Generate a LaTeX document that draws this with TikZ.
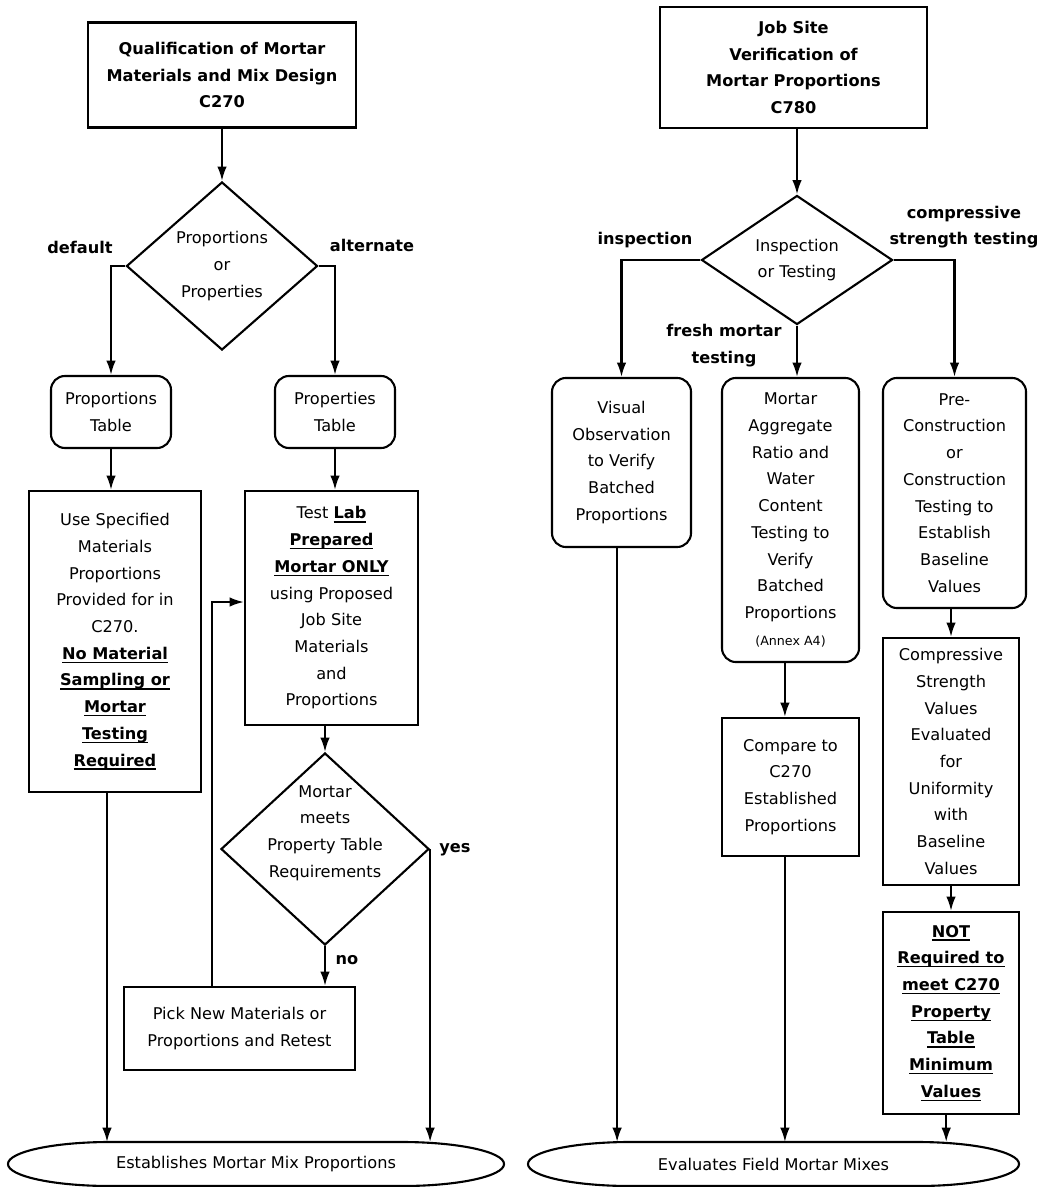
\documentclass[tikz,border=0pt]{standalone}
\usepackage{fontspec}
\setmainfont{DejaVu Sans}
\usetikzlibrary{shapes.geometric,arrows.meta}
\newcommand{\ub}[1]{{\bfseries\setbox0\hbox{#1}\rlap{\rule[-2.6pt]{\wd0}{0.9pt}}\box0}}

\tikzset{
    every node/.style={font=\fontsize{11.5pt}{19pt}\selectfont},
    box/.style={draw, line width=1.5pt, align=center, inner sep=2pt},
    rbox/.style={box, rounded corners=0.35cm},
    head/.style={box, font=\fontsize{11.5pt}{19pt}\selectfont\bfseries},
    dec/.style={draw, diamond, line width=1.5pt, align=center, inner sep=0pt},
    lbl/.style={font=\fontsize{11.5pt}{19pt}\selectfont\bfseries, align=center},
    arr/.style={-{Latex[length=3.6mm,width=2.4mm]}, line width=1.5pt},
    wire/.style={line width=1.5pt},
}

\begin{document}
\begin{tikzpicture}[x=0.025cm, y=-0.025cm]
    \useasboundingbox (0,0) rectangle (1051,1187);

    % Left flow: C270 qualification.
    \node[head, minimum width=6.7cm, minimum height=2.625cm] (c270) at (222,75)
        {Qualification of Mortar\\Materials and Mix Design\\C270};
    \node[dec, minimum width=4.775cm, minimum height=4.2cm] (pp) at (222,266)
        {Proportions\\or\\Properties};
    \node[rbox, minimum width=3cm, minimum height=1.8cm] (proptab) at (111,412)
        {Proportions\\Table};
    \node[rbox, minimum width=3cm, minimum height=1.8cm] (propertab) at (335,412)
        {Properties\\Table};
    \node[box, minimum width=4.3cm, minimum height=7.525cm] (usespec) at (115,641.5)
        {Use Specified\\Materials\\Proportions\\Provided for in\\C270.\\\ub{No Material}\\\ub{Sampling or}\\\ub{Mortar}\\\ub{Testing}\\\ub{Required}};
    \node[box, minimum width=4.325cm, minimum height=5.85cm] (test) at (331.5,608)
        {Test \ub{Lab}\\\ub{Prepared}\\\ub{Mortar ONLY}\\using Proposed\\Job Site\\Materials\\and\\Proportions};
    \node[dec, minimum width=5.2cm, minimum height=4.8cm] (meets) at (325,849) {};
    \node[align=center] (meetstxt) at (325,833)
        {Mortar\\meets\\Property Table\\Requirements};
    \node[box, minimum width=5.775cm, minimum height=2.075cm] (pick) at (239.5,1028.5)
        {Pick New Materials or\\Proportions and Retest};
    \node (est) at (256,1164) {Establishes Mortar Mix Proportions};
    \coordinate (esttop) at (256,1142);
    \coordinate (fb) at (212,602);

    \draw[arr] (c270) -- (pp);
    \draw[arr] (pp.west) -| (proptab.north);
    \draw[arr] (pp.east) -| (propertab.north);
    \draw[arr] (proptab.south) -- (proptab.south |- usespec.north);
    \draw[arr] (propertab.south) -- (propertab.south |- test.north);
    \draw[arr] (meets.north |- test.south) -- (meets.north);
    \draw[arr] (meets.south) -- (meets.south |- pick.north);
    \draw[arr] (fb |- pick.north) |- (test.west |- fb);
    \draw[arr] ([xshift=-0.2cm]usespec.south) -- ([xshift=-0.2cm]usespec.south |- esttop);
    \draw[arr] (meets.east) -- (meets.east |- esttop);
    \draw[wire] (110,1142) -- (402,1142)
        arc[start angle=90, end angle=-90, x radius=2.55cm, y radius=0.55cm]
        -- (110,1186)
        arc[start angle=270, end angle=90, x radius=2.55cm, y radius=0.55cm] -- cycle;

    \node[lbl] (ldef) at (80,247) {default};
    \node[lbl] (lalt) at (372,245) {alternate};
    \node[lbl] (lyes) at (455,850) {yes};
    \node[lbl] (lno) at (347,960) {no};

    % Right flow: C780 job site verification.
    \node[head, minimum width=6.675cm, minimum height=3.025cm] (c780) at (793.5,67.5)
        {Job Site\\Verification of\\Mortar Proportions\\C780};
    \node[dec, minimum width=4.775cm, minimum height=3.225cm] (it) at (797,260)
        {Inspection\\or Testing};
    \node[rbox, minimum width=3.475cm, minimum height=4.225cm] (visual) at (621.5,462.5)
        {Visual\\Observation\\to Verify\\Batched\\Proportions};
    \node[rbox, minimum width=3.425cm, minimum height=7.1cm] (mortar) at (790.5,520)
        {Mortar\\Aggregate\\Ratio and\\Water\\Content\\Testing to\\Verify\\Batched\\Proportions\\{\fontsize{9pt}{19pt}\selectfont(Annex A4)}};
    \node[rbox, minimum width=3.575cm, minimum height=5.75cm] (precon) at (954.5,493)
        {Pre-\\Construction\\or\\Construction\\Testing to\\Establish\\Baseline\\Values};
    \node[box, minimum width=3.425cm, minimum height=3.45cm] (compare) at (790.5,787)
        {Compare to\\C270\\Established\\Proportions};
    \node[box, minimum width=3.4cm, minimum height=6.175cm] (compr) at (951,761.5)
        {Compressive\\Strength\\Values\\Evaluated\\for\\Uniformity\\with\\Baseline\\Values};
    \node[box, minimum width=3.4cm, minimum height=5.05cm] (notreq) at (951,1013)
        {\ub{NOT}\\\ub{Required to}\\\ub{meet C270}\\\ub{Property}\\\ub{Table}\\\ub{Minimum}\\\ub{Values}};
    \node (evl) at (773.5,1164) {Evaluates Field Mortar Mixes};
    \coordinate (evltop) at (773.5,1142);

    \draw[arr] (it.north |- c780.south) -- (it.north);
    \draw[arr] (it.west) -| (visual.north);
    \draw[arr] (it.south) -- (it.south |- mortar.north);
    \draw[arr] (it.east) -| (precon.north);
    \draw[arr] ([xshift=-0.14cm]mortar.south) -- ([xshift=-0.14cm]compare.north);
    \draw[arr] (compr.north |- precon.south) -- (compr.north);
    \draw[arr] (compr) -- (notreq);
    \draw[arr] ([xshift=-0.11cm]visual.south) -- ([xshift=-0.11cm]visual.south |- evltop);
    \draw[arr] ([xshift=-0.14cm]compare.south) -- ([xshift=-0.14cm]compare.south |- evltop);
    \draw[arr] ([xshift=-0.12cm]notreq.south) -- ([xshift=-0.12cm]notreq.south |- evltop);
    \draw[wire] (630,1142) -- (917,1142)
        arc[start angle=90, end angle=-90, x radius=2.55cm, y radius=0.55cm]
        -- (630,1186)
        arc[start angle=270, end angle=90, x radius=2.55cm, y radius=0.55cm] -- cycle;

    \node[lbl] (linsp) at (645,240) {inspection};
    \node[lbl] (lcomp) at (964,227) {compressive\\strength testing};
    \node[lbl] (lfresh) at (724,345.5) {fresh mortar\\testing};
\end{tikzpicture}
\end{document}
